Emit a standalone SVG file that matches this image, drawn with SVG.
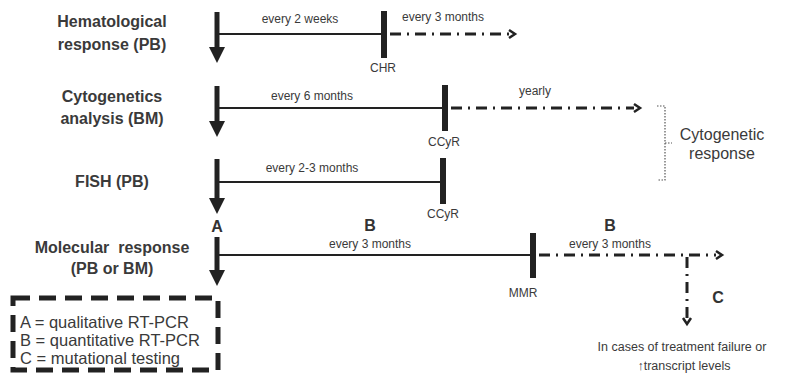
<svg xmlns="http://www.w3.org/2000/svg" width="785" height="375" viewBox="0 0 785 375">
<style>
.lbl{font-family:"Liberation Sans",Arial,sans-serif;font-size:16px;font-weight:bold;fill:#3a3a3a;text-anchor:middle}
.sm{font-family:"Liberation Sans",Arial,sans-serif;font-size:12px;fill:#3a3a3a;text-anchor:middle}
.big{font-family:"Liberation Sans",Arial,sans-serif;font-size:16px;font-weight:bold;fill:#333;text-anchor:middle}
.leg{font-family:"Liberation Sans",Arial,sans-serif;font-size:16.5px;fill:#3a3a3a}
.solid{stroke:#222;stroke-width:2;fill:none}
.dd{stroke:#222;stroke-width:3;fill:none;stroke-dasharray:11 6 2 6}
.shaft{stroke:#222;stroke-width:5;fill:none}
.head{fill:#222}
.tick{fill:#222}
.open{stroke:#222;stroke-width:2.5;fill:none}
</style>
<rect width="785" height="375" fill="#fff"/>
<g id="row-hematological">
<text class="lbl" x="112" y="27">Hematological</text>
<text class="lbl" x="112" y="50">response (PB)</text>
</g>
<g id="row-cytogenetics">
<text class="lbl" x="112" y="102">Cytogenetics</text>
<text class="lbl" x="112" y="124">analysis (BM)</text>
</g>
<g id="row-fish">
<text class="lbl" x="112" y="187">FISH (PB)</text>
</g>
<g id="row-molecular">
<text class="lbl" x="112" y="253" xml:space="preserve">Molecular  response</text>
<text class="lbl" x="112" y="274">(PB or BM)</text>
</g>
<g id="connectors">
<line class="shaft" x1="217" y1="12" x2="217" y2="50"/>
<polygon class="head" points="209,47 225,47 217,63"/>
<line class="solid" x1="219" y1="34" x2="384" y2="34"/>
<line class="dd" x1="390" y1="34" x2="510" y2="34"/>
<polyline class="open" points="509,30 515,34 509,38"/>
<line class="shaft" x1="217" y1="86" x2="217" y2="124"/>
<polygon class="head" points="209,121 225,121 217,137"/>
<line class="solid" x1="219" y1="108" x2="445" y2="108"/>
<line class="dd" x1="451" y1="108" x2="634" y2="108"/>
<polyline class="open" points="634,104 640,108 634,112"/>
<polyline points="657,106 665,106 665,180 657,180" fill="none" stroke="#555" stroke-width="1.2" stroke-dasharray="1.5 1.5"/>
<line x1="665" y1="143" x2="672" y2="143" stroke="#555" stroke-width="1.2" stroke-dasharray="1.5 1.5"/>
<line class="shaft" x1="217" y1="159" x2="217" y2="200"/>
<polygon class="head" points="209,198 225,198 217,214"/>
<line class="solid" x1="219" y1="182" x2="443" y2="182"/>
<line class="shaft" x1="217" y1="237" x2="217" y2="274"/>
<polygon class="head" points="209,270 225,270 217,286"/>
<line class="solid" x1="219" y1="255" x2="532" y2="255"/>
<line class="dd" x1="539" y1="255" x2="716" y2="255"/>
<polyline class="open" points="716,251 722,255 716,259"/>
<line class="dd" x1="687" y1="257" x2="687" y2="318"/>
<polyline class="open" points="683,318 687,324 691,318"/>
</g>
<g id="milestone-CHR">
<rect class="tick" x="381" y="11" width="6" height="47"/>
<text class="sm" x="383" y="72">CHR</text>
</g>
<g id="milestone-CCyR-1">
<rect class="tick" x="442" y="85" width="6" height="46"/>
<text class="sm" x="444" y="146">CCyR</text>
</g>
<g id="milestone-CCyR-2">
<rect class="tick" x="440" y="158" width="6" height="46"/>
<text class="sm" x="443" y="218">CCyR</text>
</g>
<g id="milestone-MMR">
<rect class="tick" x="530" y="233" width="6" height="45"/>
<text class="sm" x="523" y="297">MMR</text>
</g>
<g id="interval-labels">
<text class="sm" x="300" y="23">every 2 weeks</text>
<text class="sm" x="443" y="21">every 3 months</text>
<text class="sm" x="312" y="100">every 6 months</text>
<text class="sm" x="535" y="95">yearly</text>
<text class="sm" x="312" y="172">every 2-3 months</text>
<text class="sm" x="370" y="248">every 3 months</text>
<text class="sm" x="610" y="248">every 3 months</text>
<text class="big" x="217" y="232">A</text>
<text class="big" x="370" y="231">B</text>
<text class="big" x="610" y="231">B</text>
<text class="big" x="718" y="303">C</text>
</g>
<g id="cytogenetic-response">
<text class="lbl" x="722" y="140" style="font-weight:normal;font-size:16px">Cytogenetic</text>
<text class="lbl" x="722" y="159" style="font-weight:normal;font-size:16px">response</text>
</g>
<g id="note">
<text class="sm" x="682" y="351" style="font-size:12.5px">In cases of treatment failure or</text>
<text class="sm" x="684" y="370" style="font-size:12.5px">↑transcript levels</text>
</g>
<g id="legend">
<rect x="13" y="298" width="205" height="72" fill="none" stroke="#222" stroke-width="5" stroke-dasharray="17 9"/>
<text class="leg" x="20" y="328">A = qualitative RT-PCR</text>
<text class="leg" x="20" y="346">B = quantitative RT-PCR</text>
<text class="leg" x="20" y="364">C = mutational testing</text>
</g>
</svg>
